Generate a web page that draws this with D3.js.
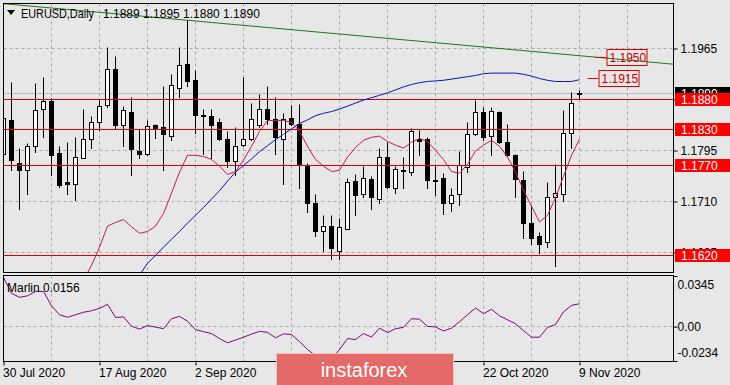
<!DOCTYPE html>
<html>
<head>
<meta charset="utf-8">
<script src="https://cdn.jsdelivr.net/npm/d3@7"></script>
<style>
  body { margin: 0; background: #e7e7e7; }
  svg { display: block; font-family: "Liberation Sans", Arial, sans-serif; }
</style>
</head>
<body>
<div id="chart"></div>
<script>
// EURUSD daily bars, 30 Jul 2020 .. 9 Nov 2020 (index 0..72)
const open = [1.1789, 1.1845, 1.1773, 1.1762, 1.1802, 1.1863, 1.1877, 1.1790, 1.1741, 1.1739,
  1.1782, 1.1813, 1.1842, 1.1870, 1.1930, 1.1837, 1.1859, 1.1794, 1.1788, 1.1837,
  1.1834, 1.1819, 1.1899, 1.1938, 1.1912, 1.1853, 1.1851, 1.1841, 1.1813, 1.1777,
  1.1803, 1.1813, 1.1837, 1.1863, 1.1847, 1.1813, 1.1849, 1.1839, 1.1770, 1.1707,
  1.1660, 1.1668, 1.1626, 1.1664, 1.1744, 1.1721, 1.1747, 1.1714, 1.1784, 1.1731,
  1.1760, 1.1758, 1.1813, 1.1813, 1.1745, 1.1748, 1.1706, 1.1721, 1.1767, 1.1821,
  1.1859, 1.1818, 1.1858, 1.1809, 1.1787, 1.1745, 1.1674, 1.1651, 1.1641, 1.1717,
  1.1721, 1.1824, 1.1889];
const high = [1.1852, 1.1909, 1.1798, 1.1806, 1.1906, 1.1916, 1.1882, 1.1802, 1.1809, 1.1817,
  1.1864, 1.1851, 1.1880, 1.1966, 1.1952, 1.1868, 1.1884, 1.1830, 1.1845, 1.1838,
  1.1902, 1.1921, 1.1966, 1.2012, 1.1928, 1.1864, 1.1863, 1.1848, 1.1826, 1.1834,
  1.1917, 1.1874, 1.1889, 1.1901, 1.1884, 1.1856, 1.1870, 1.1871, 1.1773, 1.1721,
  1.1687, 1.1686, 1.1681, 1.1748, 1.1755, 1.1769, 1.1751, 1.1799, 1.1808, 1.1769,
  1.1783, 1.1832, 1.1828, 1.1817, 1.1771, 1.1757, 1.1732, 1.1793, 1.1842, 1.1879,
  1.1867, 1.1866, 1.1860, 1.1838, 1.1789, 1.1760, 1.1704, 1.1658, 1.1741, 1.1771,
  1.1861, 1.1891, 1.1895];
const low = [1.1731, 1.1762, 1.1697, 1.1721, 1.1792, 1.1817, 1.1754, 1.1734, 1.1721, 1.1712,
  1.1781, 1.1798, 1.1828, 1.1866, 1.1831, 1.1801, 1.1754, 1.1781, 1.1787, 1.1815,
  1.1762, 1.1812, 1.1883, 1.1902, 1.1823, 1.1789, 1.1781, 1.1812, 1.1767, 1.1753,
  1.1802, 1.1812, 1.1834, 1.1839, 1.1788, 1.1738, 1.1837, 1.1731, 1.1692, 1.1651,
  1.1627, 1.1613, 1.1614, 1.1663, 1.1686, 1.1716, 1.1697, 1.1706, 1.1731, 1.1724,
  1.1732, 1.1753, 1.1786, 1.1731, 1.1720, 1.1688, 1.1694, 1.1703, 1.1759, 1.1820,
  1.1812, 1.1786, 1.1807, 1.1785, 1.1717, 1.1649, 1.1638, 1.1623, 1.1633, 1.1602,
  1.1710, 1.1799, 1.1880];
const close = [1.1848, 1.1778, 1.1762, 1.1802, 1.1862, 1.1876, 1.1787, 1.1737, 1.1738, 1.1784,
  1.1814, 1.1842, 1.1868, 1.1930, 1.1837, 1.1861, 1.1797, 1.1788, 1.1835, 1.1831,
  1.1821, 1.1903, 1.1936, 1.1910, 1.1853, 1.1851, 1.1837, 1.1813, 1.1777, 1.1802,
  1.1813, 1.1847, 1.1864, 1.1847, 1.1816, 1.1847, 1.1839, 1.1770, 1.1706, 1.1660,
  1.1668, 1.1631, 1.1666, 1.1742, 1.1720, 1.1749, 1.1716, 1.1784, 1.1733, 1.1764,
  1.1762, 1.1826, 1.1810, 1.1745, 1.1744, 1.1706, 1.1720, 1.1770, 1.1822, 1.1859,
  1.1816, 1.1860, 1.1808, 1.1786, 1.1747, 1.1674, 1.1648, 1.1639, 1.1716, 1.1724,
  1.1824, 1.1874, 1.1890];

// red (short) and blue (long) moving lines; null = off chart
const redLine = [null, null, null, null, null, null, null, null, null, null,
  1.1578, 1.1604, 1.1634, 1.1669, 1.1675, 1.1680, 1.1668, 1.1657, 1.1660, 1.1669,
  1.1690, 1.1724, 1.1759, 1.1787, 1.1787, 1.1785, 1.1780, 1.1769, 1.1755, 1.1760,
  1.1779, 1.1802, 1.1827, 1.1845, 1.1845, 1.1845, 1.1842, 1.1827, 1.1802, 1.1780,
  1.1769, 1.1760, 1.1762, 1.1784, 1.1800, 1.1812, 1.1817, 1.1819, 1.1810, 1.1804,
  1.1799, 1.1809, 1.1815, 1.1810, 1.1795, 1.1780, 1.1760, 1.1757, 1.1772, 1.1794,
  1.1804, 1.1812, 1.1802, 1.1784, 1.1759, 1.1729, 1.1702, 1.1676, 1.1687, 1.1716,
  1.1752, 1.1787, 1.1814];
const blueLine = [null, null, null, null, null, null, null, null, null, null,
  null, null, null, null, null, null, null, 1.1587, 1.1607, 1.1620,
  1.1634, 1.1647, 1.1660, 1.1674, 1.1687, 1.1700, 1.1714, 1.1728, 1.1744, 1.1759,
  1.1770, 1.1781, 1.1793, 1.1803, 1.1813, 1.1822, 1.1831, 1.1840, 1.1846, 1.1853,
  1.1857, 1.1860, 1.1864, 1.1869, 1.1874, 1.1879, 1.1883, 1.1887, 1.1891, 1.1896,
  1.1901, 1.1905, 1.1908, 1.1910, 1.1911, 1.1912, 1.1914, 1.1916, 1.1918, 1.1920,
  1.1923, 1.1924, 1.1924, 1.1924, 1.1924, 1.1922, 1.1919, 1.1915, 1.1912, 1.1910,
  1.1910, 1.1910, 1.1913];

// Marlin oscillator (lower window)
const marlin = [0.0335, 0.0227, 0.0200, 0.0210, 0.0240, 0.0240, 0.0142, 0.0081, 0.0064, 0.0081,
  0.0098, 0.0108, 0.0125, 0.0152, 0.0063, 0.0066, 0.0003, -0.0017, 0.0007, -0.0003,
  -0.0014, 0.0054, 0.0070, 0.0037, -0.0020, -0.0034, -0.0047, -0.0081, -0.0110, -0.0091,
  -0.0072, -0.0051, -0.0032, -0.0039, -0.0076, -0.0049, -0.0054, -0.0101, -0.0156, -0.0196,
  -0.0230, -0.0217, -0.0156, -0.0081, -0.0088, -0.0047, -0.0071, -0.0010, -0.0041, -0.0014,
  -0.0005, 0.0054, 0.0051, 0.0002, -0.0002, -0.0030, -0.0010, 0.0034, 0.0081, 0.0127,
  0.0088, 0.0118, 0.0074, 0.0047, 0.0020, -0.0027, -0.0072, -0.0072, -0.0005, 0.0014,
  0.0101, 0.0145, 0.0156];

// horizontal levels, price notes, trend line anchors (bar index, price)
const levels = [1.1880, 1.1830, 1.1770, 1.1620];
const notePrices = [1.1950, 1.1915];
const trendPoints = [[23, 1.2012], [72, 1.1953]];
const bidPrice = 1.1890;

// axis ticks
const priceTicks = [1.1965, 1.1880, 1.1795, 1.1710, 1.1625];
const marlinTicks = [-0.0234, 0, 0.0345];
const marlinTickLabels = ["-0.0234", "0.00", "0.0345"];
const dateIdx = [0, 12, 24, 36, 48, 60, 72];
const dateLabels = ["30 Jul 2020", "17 Aug 2020", "2 Sep 2020", "18 Sep 2020",
  "6 Oct 2020", "22 Oct 2020", "9 Nov 2020"];

const width = 730, height = 385;
const plotLeft = 3.5, plotRight = 673.5, plotTop = 3.5, mainBottom = 272.5;
const subTop = 275.5, subBottom = 361.5;

const svg = d3.select("#chart").append("svg")
  .attr("width", width).attr("height", height);

svg.append("rect").attr("width", width).attr("height", height).attr("fill", "#e7e7e7");

const x = d3.scaleLinear().domain([0, 72]).range([3.5, 579.5]);
const y = d3.scaleLinear().domain([1.1620, 1.1880]).range([255.5, 99.5]);
const ym = d3.scaleLinear().domain([-0.0234, 0.0345]).range([361, 276]);
const snap = (v) => Math.round(v - 0.5) + 0.5;

svg.append("clipPath").attr("id", "mainClip").append("rect")
  .attr("x", plotLeft).attr("y", plotTop).attr("width", plotRight - plotLeft).attr("height", mainBottom - plotTop);
svg.append("clipPath").attr("id", "subClip").append("rect")
  .attr("x", plotLeft).attr("y", subTop).attr("width", plotRight - plotLeft).attr("height", subBottom - subTop);

// grid
const grid = svg.append("g").attr("stroke", "#a8a8a8").attr("stroke-dasharray", "3,3");
d3.range(6, 84, 6).forEach((i) => {
  grid.append("line").attr("x1", x(i)).attr("x2", x(i)).attr("y1", plotTop).attr("y2", mainBottom);
  grid.append("line").attr("x1", x(i)).attr("x2", x(i)).attr("y1", subTop).attr("y2", subBottom);
});
priceTicks.forEach((p) => {
  grid.append("line").attr("x1", plotLeft).attr("x2", plotRight).attr("y1", snap(y(p))).attr("y2", snap(y(p)));
});
grid.append("line").attr("x1", plotLeft).attr("x2", plotRight)
  .attr("y1", snap(ym(0))).attr("y2", snap(ym(0)));

const main = svg.append("g").attr("clip-path", "url(#mainClip)");

// bid line
main.append("line").attr("x1", plotLeft).attr("x2", plotRight)
  .attr("y1", snap(y(bidPrice))).attr("y2", snap(y(bidPrice)))
  .attr("stroke", "#bdbdbd");

// candles
const bars = main.append("g").selectAll("g").data(d3.range(open.length)).join("g");
bars.append("line")
  .attr("x1", (i) => x(i)).attr("x2", (i) => x(i))
  .attr("y1", (i) => snap(y(high[i]))).attr("y2", (i) => snap(y(low[i])) + 0.5)
  .attr("stroke", "#000");
bars.append("rect")
  .attr("x", (i) => x(i) - 2)
  .attr("width", 4)
  .attr("y", (i) => snap(y(Math.max(open[i], close[i]))))
  .attr("height", (i) => Math.max(1, snap(y(Math.min(open[i], close[i]))) - snap(y(Math.max(open[i], close[i])))))
  .attr("fill", (i) => (close[i] >= open[i] ? "#fff" : "#000"))
  .attr("stroke", "#000");

// level lines
levels.forEach((l) => {
  main.append("line").attr("x1", plotLeft).attr("x2", plotRight)
    .attr("y1", snap(y(l))).attr("y2", snap(y(l)))
    .attr("stroke", "#e00000");
});

// moving lines
const line = d3.line().defined((d) => d != null).x((d, i) => x(i)).y((d) => y(d));
main.append("path").attr("d", line(blueLine)).attr("fill", "none").attr("stroke", "#1010c0");
main.append("path").attr("d", line(redLine)).attr("fill", "none").attr("stroke", "#d01848");

// trend line, extended across the window
const slope = (trendPoints[1][1] - trendPoints[0][1]) / (trendPoints[1][0] - trendPoints[0][0]);
const tAt = (i) => trendPoints[0][1] + slope * (i - trendPoints[0][0]);
const iLeft = x.invert(plotLeft), iRight = x.invert(plotRight);
main.append("line")
  .attr("x1", plotLeft).attr("y1", y(tAt(iLeft)))
  .attr("x2", plotRight).attr("y2", y(tAt(iRight)))
  .attr("stroke", "#1a7a1a");

// price notes near the last bar
const noteOffsets = [27, 19];
notePrices.forEach((p, k) => {
  const bx = x(72) + noteOffsets[k];
  const py = snap(y(p));
  svg.append("line").attr("x1", bx - 11).attr("x2", bx).attr("y1", py).attr("y2", py)
    .attr("stroke", "#e00000");
  svg.append("rect").attr("x", bx + 0.5).attr("y", py - 8).attr("width", 40).attr("height", 16)
    .attr("fill", "none").attr("stroke", "#e00000");
  svg.append("text").attr("x", bx + 3).attr("y", py + 4.5)
    .attr("font-size", 12).attr("fill", "#c80000").text(p.toFixed(4));
});

// Marlin window
svg.append("path")
  .attr("clip-path", "url(#subClip)")
  .attr("d", d3.line().x((d, i) => x(i)).y((d) => ym(d))(marlin))
  .attr("fill", "none").attr("stroke", "#800080");

// frames
svg.append("rect").attr("x", plotLeft).attr("y", plotTop).attr("width", plotRight - plotLeft)
  .attr("height", mainBottom - plotTop).attr("fill", "none").attr("stroke", "#000");
svg.append("rect").attr("x", plotLeft).attr("y", subTop).attr("width", plotRight - plotLeft)
  .attr("height", subBottom - subTop).attr("fill", "none").attr("stroke", "#000");

// axes; the scale label under a level tag is hidden in the original, so leave it blank
const priceAxis = svg.append("g").attr("transform", `translate(${plotRight},0)`)
  .call(d3.axisRight(y).tickValues(priceTicks)
    .tickFormat((d) => (levels.includes(d) ? "" : d.toFixed(4)))
    .tickSize(4).tickPadding(3));
const marlinAxis = svg.append("g").attr("transform", `translate(${plotRight},0)`)
  .call(d3.axisRight(ym).tickValues(marlinTicks).tickFormat((d, i) => marlinTickLabels[i]).tickSize(4).tickPadding(0));
marlinAxis.selectAll(".tick text").attr("dy", (d) => (d > 0 ? "1.0em" : d < 0 ? "-0.35em" : "0.32em"));
const dateAxis = svg.append("g").attr("transform", `translate(0,${subBottom})`)
  .call(d3.axisBottom(x).tickValues(dateIdx).tickFormat((d, i) => dateLabels[i]).tickSize(4));
dateAxis.selectAll(".tick text").attr("text-anchor", "start").attr("x", -1);

[priceAxis, marlinAxis, dateAxis].forEach((g) => {
  g.attr("font-size", 12).attr("font-family", null);
  g.select(".domain").remove();
  g.selectAll(".tick line").attr("stroke", "#000");
  g.selectAll(".tick text").attr("fill", "#000");
});

// current price (black) and level labels (red) on the price scale
const tag = (p, fill) => {
  const py = y(p);
  svg.append("rect").attr("x", 675).attr("y", py - 6.5).attr("width", 55).attr("height", 13).attr("fill", fill);
  svg.append("text").attr("x", 681).attr("y", py + 4.5).attr("font-size", 12)
    .attr("fill", "#fff").text(p.toFixed(4));
};
tag(bidPrice, "#000");
levels.forEach((l) => tag(l, "#ff0000"));

// titles
svg.append("path").attr("d", "M7,10 L15,10 L11,15 Z").attr("fill", "#000");
svg.append("text").attr("x", 21).attr("y", 17.5).attr("font-size", 12)
  .attr("textLength", 73).attr("lengthAdjust", "spacingAndGlyphs").text("EURUSD,Daily");
const last = open.length - 1;
svg.append("text").attr("x", 103).attr("y", 17.5).attr("font-size", 12)
  .text([open[last], high[last], low[last], close[last]].map((v) => v.toFixed(4)).join(" "));
svg.append("text").attr("x", 7).attr("y", 292).attr("font-size", 12)
  .text("Marlin " + marlin[last].toFixed(4));

// watermark
svg.append("rect").attr("x", 276.5).attr("y", 353.5).attr("width", 177).attr("height", 40)
  .attr("fill", "#e46a6a").attr("stroke", "#f2c4c4");
svg.append("text").attr("x", 364).attr("y", 376.5).attr("text-anchor", "middle")
  .attr("font-size", 20).attr("fill", "#fff").text("instaforex");
</script>
</body>
</html>
